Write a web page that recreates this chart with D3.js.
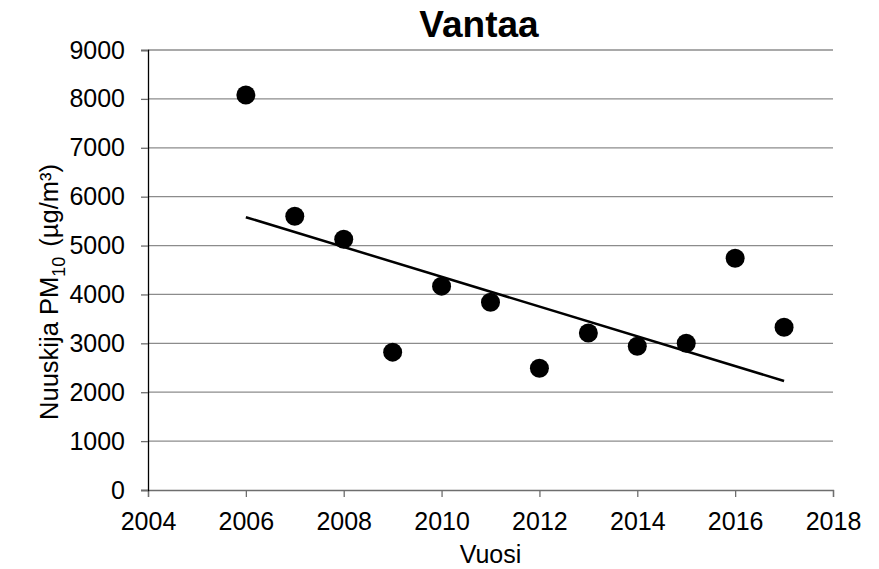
<!DOCTYPE html>
<html lang="fi">
<head>
<meta charset="UTF-8">
<title>Vantaa</title>
<script src="https://d3js.org/d3.v7.min.js"></script>
<style>
  body { margin: 0; background: #fff; }
  text { font-family: "Liberation Sans", Arial, sans-serif; fill: #000; }
</style>
</head>
<body>
<svg width="879" height="569" id="grafico"></svg>
<script>
// data
var years = [2006, 2007, 2008, 2009, 2010, 2011, 2012, 2013, 2014, 2015, 2016, 2017];
var values = [8080, 5600, 5130, 2820, 4170, 3840, 2490, 3210, 2940, 3000, 4740, 3330];
// trend line ends
var trendYears = [2006, 2017];
var trendValues = [5580, 2230];
var xTicks = [2004, 2006, 2008, 2010, 2012, 2014, 2016, 2018];
var yTicks = [0, 1000, 2000, 3000, 4000, 5000, 6000, 7000, 8000, 9000];

var svg = d3.select("svg"),
    margin = { top: 50, right: 46, bottom: 79, left: 148 },
    width = +svg.attr("width") - margin.left - margin.right,
    height = +svg.attr("height") - margin.top - margin.bottom;

var x = d3.scaleLinear().domain([2004, 2018]).range([0, width]),
    y = d3.scaleLinear().domain([0, 9000]).range([height, 0]);

var g = svg.append("g")
    .attr("transform", "translate(" + margin.left + "," + margin.top + ")");

// horizontal grid
g.append("g").selectAll("line")
    .data(yTicks.slice(1))
    .enter().append("line")
    .attr("x1", 0).attr("x2", width)
    .attr("y1", function (d) { return y(d); })
    .attr("y2", function (d) { return y(d); })
    .attr("stroke", "#8c8c8c").attr("stroke-width", 1.3);

// x axis
var xAxis = g.append("g")
    .attr("transform", "translate(0," + height + ")")
    .call(d3.axisBottom(x).tickValues(xTicks).tickFormat(d3.format("d")).tickSize(7).tickPadding(15));
xAxis.select(".domain").attr("stroke", "#6e6e6e").attr("stroke-width", 1.3);
xAxis.selectAll(".tick line").attr("stroke", "#6e6e6e").attr("stroke-width", 1.3);
xAxis.selectAll("text").style("font-size", "25px").attr("fill", "#000");

// y axis
var yAxis = g.append("g")
    .call(d3.axisLeft(y).tickValues(yTicks).tickFormat(d3.format("d")).tickSize(7).tickPadding(16));
yAxis.select(".domain").attr("stroke", "#000").attr("stroke-width", 1.3);
yAxis.selectAll(".tick line").attr("stroke", "#6e6e6e").attr("stroke-width", 1.3);
yAxis.selectAll("text").style("font-size", "25px").attr("fill", "#000");

// trend line
var line = d3.line()
    .x(function (d, i) { return x(trendYears[i]); })
    .y(function (d) { return y(d); });
g.append("path")
    .datum(trendValues)
    .attr("d", line)
    .attr("fill", "none")
    .attr("stroke", "#000")
    .attr("stroke-width", 2.5);

// points
g.append("g").selectAll("circle")
    .data(values)
    .enter().append("circle")
    .attr("cx", function (d, i) { return x(years[i]); })
    .attr("cy", function (d) { return y(d); })
    .attr("r", 9.5)
    .attr("fill", "#000");

// title
svg.append("text")
    .attr("x", 479).attr("y", 37)
    .attr("text-anchor", "middle")
    .style("font-size", "37px").style("font-weight", "bold")
    .text("Vantaa");

// axis titles
svg.append("text")
    .attr("x", margin.left + width / 2).attr("y", 563)
    .attr("text-anchor", "middle")
    .style("font-size", "25px")
    .text("Vuosi");

var yl = svg.append("text")
    .attr("transform", "translate(58,292) rotate(-90)")
    .attr("text-anchor", "middle")
    .style("font-size", "25.5px");
yl.append("tspan").text("Nuuskija PM");
yl.append("tspan").attr("dy", 7).style("font-size", "18px").text("10");
yl.append("tspan").attr("dy", -7).attr("dx", 3).text(" (µg/m³)");
</script>
</body>
</html>
